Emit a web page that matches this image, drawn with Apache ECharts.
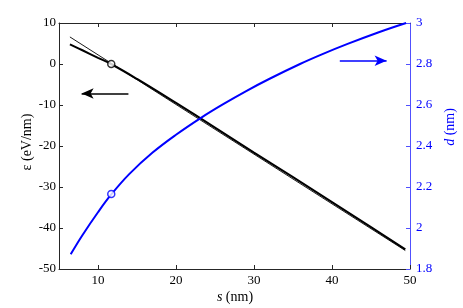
<!DOCTYPE html>
<html><head><meta charset="utf-8">
<script src="https://cdn.jsdelivr.net/npm/echarts@6/dist/echarts.min.js"></script>
<style>html,body{margin:0;padding:0;background:#fff}#c{width:463px;height:308px}</style>
</head><body><div id="c"></div>
<script>
// thick black curve: epsilon vs s
const sThick = [6.4, 8, 10, 11.67, 15, 20, 25, 30, 35, 40, 45, 49.4];
const epsThick = [4.8, 3.35, 1.5, 0, -3.65, -9.5, -15.5, -21.6, -27.6, -33.7, -39.8, -45.2];
// thin black straight line
const sThin = [6.4, 49.4];
const epsThin = [6.6, -45.5];
// blue curve: d vs s
const sD = [6.5, 8, 10, 11.75, 14, 17, 20, 23.3, 26, 29, 32, 35.9, 38.7, 42, 46, 49.5];
const dVals = [1.872, 1.965, 2.077, 2.166, 2.263, 2.368, 2.455, 2.54, 2.603, 2.668, 2.728, 2.80, 2.847, 2.898, 2.955, 3.0];
// markers
const markS = 11.7, markEps = 0, markD = 2.166;
// arrows
const arrowLeft = {from: [13.9, -7.2], to: [7.9, -7.2]};
const arrowRight = {from: [41.0, 2.816], to: [47.0, 2.816]};
// ticks
const xTicks = [10, 20, 30, 40, 50];

const FONT = 'Liberation Serif';
const chart = echarts.init(document.getElementById('c'), null, {renderer: 'canvas'});
const zip = (a, b) => a.map((v, i) => [v, b[i]]);
chart.setOption({
  animation: false,
  grid: {left: 59, right: 53, top: 23, bottom: 39},
  xAxis: [{
    type: 'value', min: 5, max: 50, position: 'bottom',
    axisLine: {onZero: false, lineStyle: {color: '#262626', width: 1}},
    axisTick: {inside: true, length: 4, customValues: xTicks, lineStyle: {color: '#262626'}},
    axisLabel: {customValues: xTicks, color: '#000', fontFamily: FONT, fontSize: 13, margin: 5},
    splitLine: {show: false}
  }, {
    type: 'value', min: 5, max: 50, position: 'top',
    axisLine: {show: true, onZero: false, lineStyle: {color: '#262626', width: 1}},
    axisTick: {inside: true, length: 4, customValues: [10, 20, 30, 40], lineStyle: {color: '#262626'}},
    axisLabel: {show: false},
    splitLine: {show: false}
  }],
  yAxis: [{
    type: 'value', min: -50, max: 10, interval: 10, position: 'left',
    axisLine: {show: true, onZero: false, lineStyle: {color: '#262626', width: 1}},
    axisTick: {show: true, inside: true, length: 4, lineStyle: {color: '#262626'}},
    axisLabel: {color: '#000', fontFamily: FONT, fontSize: 13, margin: 3},
    splitLine: {show: false}
  }, {
    type: 'value', min: 1.8, max: 3, interval: 0.2, position: 'right',
    axisLine: {show: true, onZero: false, lineStyle: {color: '#5050ff', width: 1}},
    axisTick: {show: true, inside: true, length: 4, lineStyle: {color: '#5050ff'}},
    axisLabel: {color: '#0000ff', fontFamily: FONT, fontSize: 13, margin: 6,
      formatter: v => String(+v.toFixed(1))},
    splitLine: {show: false}
  }],
  series: [{
    type: 'line', data: zip(sThin, epsThin), showSymbol: false, smooth: false,
    lineStyle: {color: '#000', width: 0.9}, z: 3,
    markLine: {
      silent: true, symbol: ['none', 'arrow'], symbolSize: [8, 12],
      label: {show: false},
      lineStyle: {color: '#000', width: 1.6, type: 'solid'},
      data: [[{coord: arrowLeft.from}, {coord: arrowLeft.to}]]
    }
  }, {
    type: 'line', data: zip(sThick, epsThick), showSymbol: false, smooth: 0.4,
    lineStyle: {color: '#000', width: 2}, z: 4
  }, {
    type: 'scatter', data: [[markS, markEps]], symbol: 'circle', symbolSize: 7,
    itemStyle: {color: '#fff', borderColor: '#000', borderWidth: 1.5}, z: 6
  }, {
    type: 'line', yAxisIndex: 1, data: zip(sD, dVals), showSymbol: false, smooth: 0.4,
    lineStyle: {color: '#0000ff', width: 2}, z: 5,
    markLine: {
      silent: true, symbol: ['none', 'arrow'], symbolSize: [8, 12],
      label: {show: false},
      lineStyle: {color: '#0000ff', width: 1.6, type: 'solid'},
      data: [[{coord: arrowRight.from}, {coord: arrowRight.to}]]
    }
  }, {
    type: 'scatter', yAxisIndex: 1, data: [[markS, markD]], symbol: 'circle', symbolSize: 7,
    itemStyle: {color: '#fff', borderColor: '#0000ff', borderWidth: 1.5}, z: 6
  }],
  graphic: [{
    type: 'text', x: 235, y: 297,
    style: {text: '{i|s} (nm)', rich: {i: {fontStyle: 'italic', fontFamily: FONT, fontSize: 14, fill: '#000'}},
      fontFamily: FONT, fontSize: 14, fill: '#000', align: 'center', verticalAlign: 'middle'}
  }, {
    type: 'text', x: 27, y: 142, rotation: Math.PI / 2,
    style: {text: 'ε (eV/nm)', fontFamily: FONT, fontSize: 14, fill: '#000', align: 'center', verticalAlign: 'middle'}
  }, {
    type: 'text', x: 450, y: 127, rotation: Math.PI / 2,
    style: {text: '{i|d} (nm)', rich: {i: {fontStyle: 'italic', fontFamily: FONT, fontSize: 14, fill: '#0000ff'}},
      fontFamily: FONT, fontSize: 14, fill: '#0000ff', align: 'center', verticalAlign: 'middle'}
  }]
});
</script></body></html>
